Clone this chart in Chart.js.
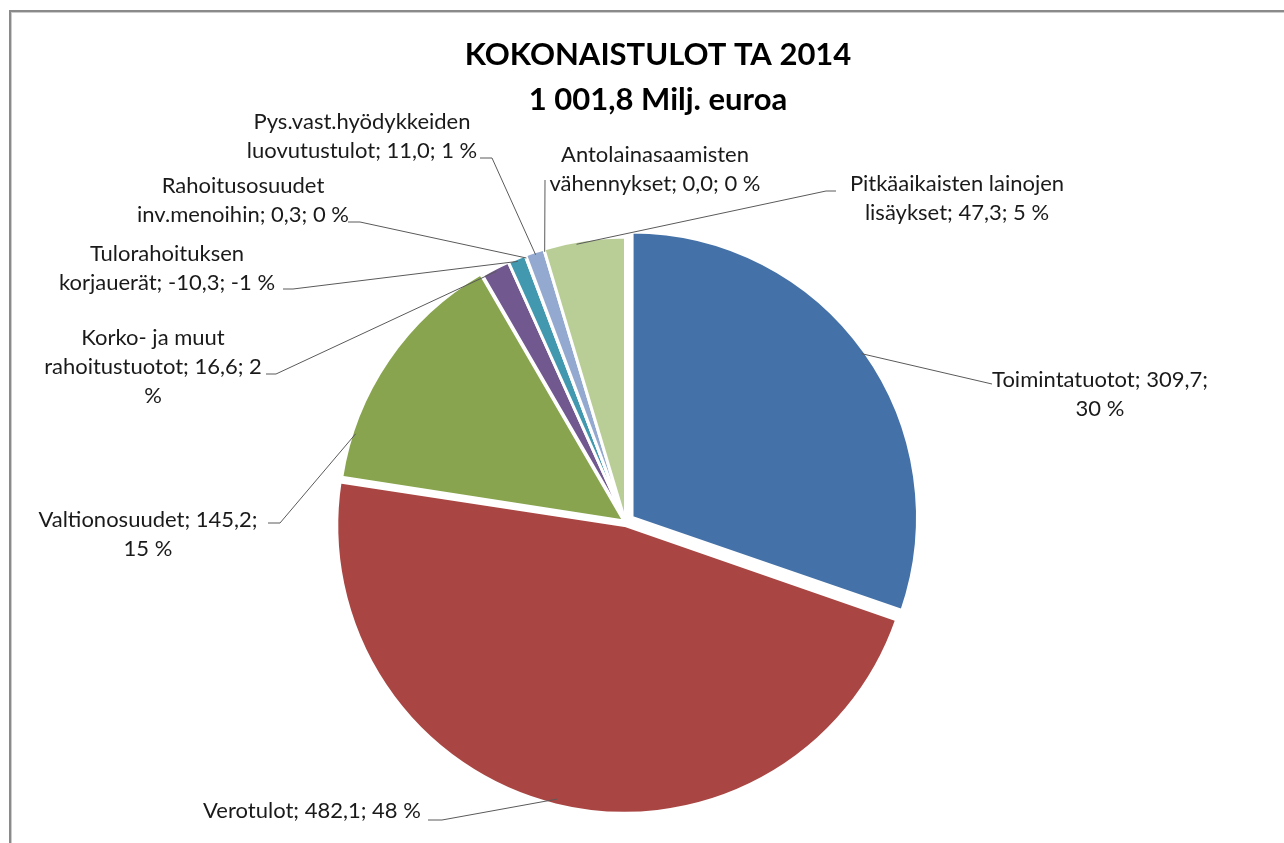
<!DOCTYPE html>
<html>
<head>
<meta charset="utf-8">
<script src="https://cdn.jsdelivr.net/npm/chart.js@4"></script>
<style>
  html, body { margin: 0; padding: 0; background: #fff; overflow: hidden; }
  #wrap { position: relative; width: 1284px; height: 843px; overflow: hidden; }
  #frame {
    position: absolute; left: 9px; top: 10px; width: 1400px; height: 1000px;
    border-left: 2px solid #8a8a8a; border-top: 2px solid #8a8a8a;
    box-shadow: inset 1px 1px 0 #cccccc;
  }
  canvas { position: absolute; left: 0; top: 0; }
</style>
</head>
<body>
<div id="wrap">
  <div id="frame"></div>
  <canvas id="chart" width="1284" height="843"></canvas>
</div>
<script>
// data
const titleLines = ['KOKONAISTULOT TA 2014', '1 001,8 Milj. euroa'];
const categories = [
  'Toimintatuotot',
  'Verotulot',
  'Valtionosuudet',
  'Korko- ja muut rahoitustuotot',
  'Tulorahoituksen korjauerät',
  'Rahoitusosuudet inv.menoihin',
  'Pys.vast.hyödykkeiden luovutustulot',
  'Antolainasaamisten vähennykset',
  'Pitkäaikaisten lainojen lisäykset'
];
const values = [309.7, 482.1, 145.2, 16.6, -10.3, 0.3, 11.0, 0.0, 47.3];
const percents = [30, 48, 15, 2, -1, 0, 1, 0, 5];

const sliceColors = ['#4471a7', '#a94643', '#88a44e', '#71588f', '#4198af', '#db843d', '#93a9cf', '#c99a98', '#b9cd96'];

const labelFont = '22px Lato';
const lineH = 29;

// where each data label sits and where its leader line starts
const labelLayout = [
  {x: 1100, y: 380, w: 232, frac: 0.5, leader: [[992, 384]]},
  {x: 312, y: 811, w: 400, frac: 0.5, leader: [[428, 820], [442, 820]]},
  {x: 148, y: 520, w: 232, frac: 0.18, leader: [[268, 523], [280, 523]]},
  {x: 153, y: 338, w: 230, frac: 0.5, leader: [[266, 374], [276, 374]]},
  {x: 167, y: 254, w: 225, frac: 0.5, leader: [[283, 289], [293, 289]]},
  {x: 243, y: 186, w: 215, frac: 0.5, leader: [[348, 222], [360, 222]]},
  {x: 362, y: 122, w: 240, frac: 0.5, leader: [[480, 158], [492, 158]]},
  {x: 655, y: 155, w: 225, frac: 0.5, leader: [[545, 180]]},
  {x: 957, y: 184, w: 225, frac: 0.4, leader: [[836, 191], [826, 191]]}
];

function fmt(v) {
  return v.toFixed(1).replace('.', ',');
}

function labelText(i) {
  return categories[i] + '; ' + fmt(values[i]) + '; ' + percents[i] + ' %';
}

function wrap(ctx, text, maxW) {
  const words = text.split(' ');
  const lines = [];
  let cur = '';
  words.forEach(function(w) {
    const test = cur ? cur + ' ' + w : w;
    if (cur && ctx.measureText(test).width > maxW) {
      lines.push(cur);
      cur = w;
    } else {
      cur = test;
    }
  });
  if (cur) lines.push(cur);
  return lines;
}

const pieLabels = {
  id: 'pieLabels',
  afterDatasetsDraw(chart) {
    const ctx = chart.ctx;
    const arcs = chart.getDatasetMeta(0).data;
    ctx.save();

    // title
    ctx.fillStyle = '#000';
    ctx.textAlign = 'center';
    ctx.textBaseline = 'middle';
    ctx.font = 'bold 31px Lato';
    titleLines.forEach(function(t, k) {
      ctx.fillText(t, 658, 55 + k * 45);
    });

    ctx.font = labelFont;
    ctx.fillStyle = '#1a1a1a';
    ctx.strokeStyle = '#5a5a5a';
    ctx.lineWidth = 1;
    labelLayout.forEach(function(lay, i) {
      const arc = arcs[i];
      const lines = wrap(ctx, labelText(i), lay.w);
      lines.forEach(function(t, k) {
        ctx.fillText(t, lay.x, lay.y + k * lineH);
      });

      // arc element shifts by offset / 4 along its middle angle (Chart.js v4)
      const p = arc.getProps(['x', 'y', 'startAngle', 'endAngle', 'outerRadius'], true);
      const mid = (p.startAngle + p.endAngle) / 2;
      const off = (arc.options.offset || 0) / 4;
      const a = p.startAngle + lay.frac * (p.endAngle - p.startAngle);
      const ex = p.x + Math.cos(mid) * off + Math.cos(a) * (p.outerRadius - 3);
      const ey = p.y + Math.sin(mid) * off + Math.sin(a) * (p.outerRadius - 3);

      ctx.beginPath();
      ctx.moveTo(lay.leader[0][0], lay.leader[0][1]);
      lay.leader.slice(1).forEach(function(pt) { ctx.lineTo(pt[0], pt[1]); });
      ctx.lineTo(ex, ey);
      ctx.stroke();
    });
    ctx.restore();
  }
};

new Chart(document.getElementById('chart'), {
  type: 'pie',
  data: {
    labels: categories,
    datasets: [{
      data: values,
      backgroundColor: sliceColors,
      borderColor: '#ffffff',
      borderWidth: 3,
      offset: [32, 14, 8, 0, 0, 0, 0, 0, 0],
      radius: 285
    }]
  },
  options: {
    responsive: false,
    animation: false,
    layout: {
      padding: {left: 0, right: 33, top: 201, bottom: 0}
    },
    plugins: {
      legend: {display: false},
      title: {display: false},
      tooltip: {enabled: false}
    }
  },
  plugins: [pieLabels]
});
</script>
</body>
</html>
